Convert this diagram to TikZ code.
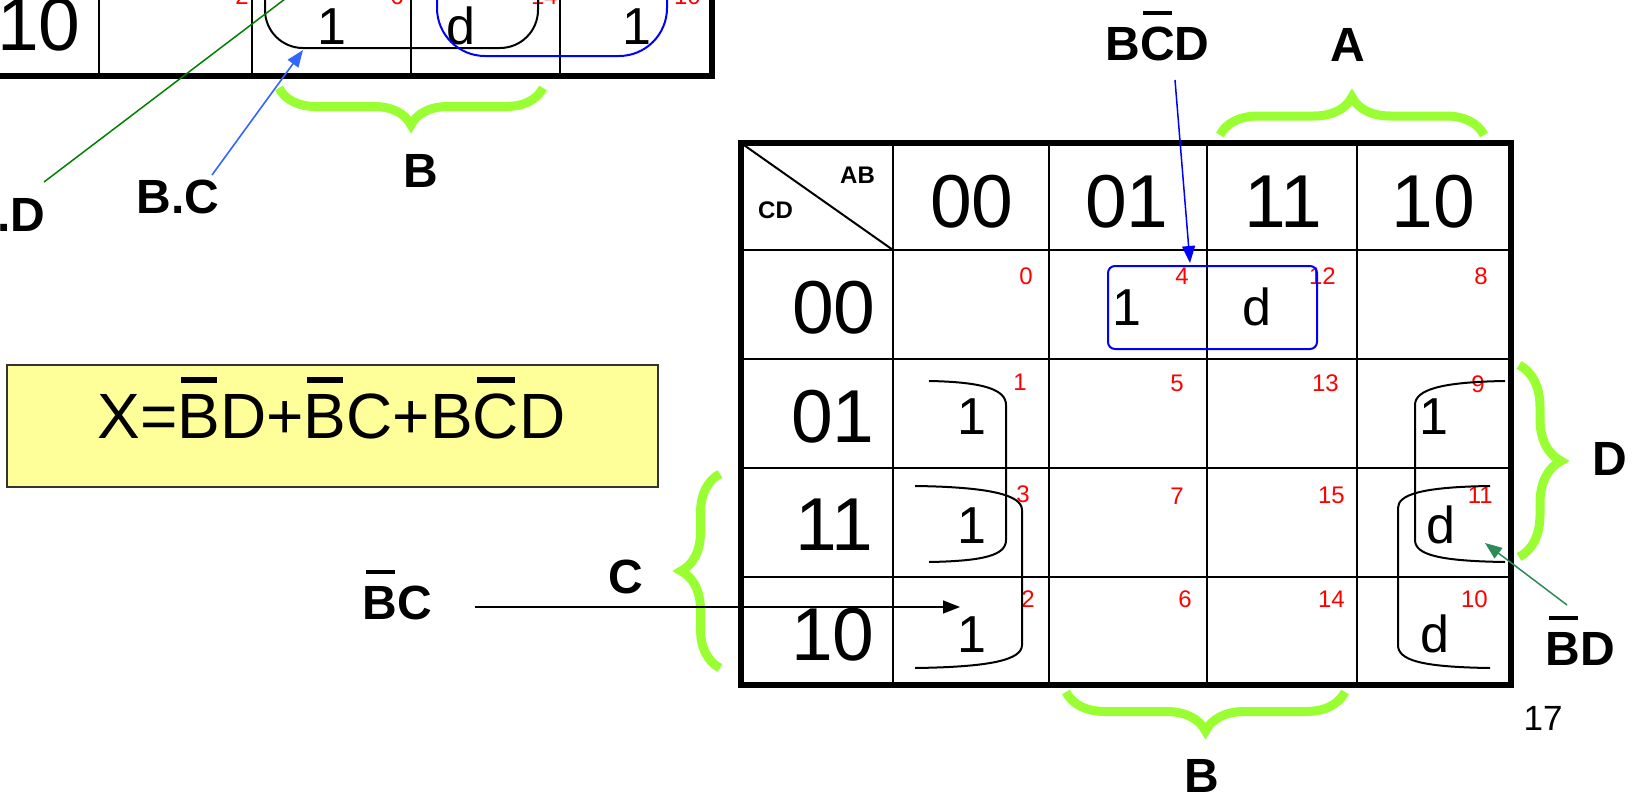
\documentclass[tikz,border=0pt]{standalone}
\usepackage{fontspec}
\setmainfont{Liberation Sans}
\usepackage{tikz}
\usetikzlibrary{arrows.meta,decorations.pathreplacing}
\definecolor{GroupBlue}{HTML}{0000FF}
\definecolor{ArrowBlue}{HTML}{3366FF}
\definecolor{BraceGreen}{HTML}{99FF33}
\definecolor{LineGreen}{HTML}{008000}
\definecolor{SeaGreen}{HTML}{2E8B57}
\definecolor{IndexRed}{HTML}{FF0000}
\definecolor{NoteYellow}{HTML}{FFFF99}
\definecolor{NoteEdge}{HTML}{333333}

\newlength{\barwd}
\newcommand{\nbar}[2][0.94em]{\settowidth{\barwd}{#2}\rlap{\kern0.08\barwd\rule[#1]{0.84\barwd}{0.09em}}#2}

\begin{document}
\begin{tikzpicture}[
  x=1pt, y=-1pt,
  gridline/.style={line width=2pt},
  outline/.style={line width=5.5pt},
  loopline/.style={line width=2pt},
  bigdigit/.style={anchor=base, font=\fontsize{75}{75}\selectfont},
  cellval/.style={anchor=base, font=\fontsize{52}{52}\selectfont},
  idx/.style={anchor=base east, inner sep=0pt, text=IndexRed, font=\fontsize{24}{24}\selectfont},
  corner/.style={anchor=base, font=\bfseries\fontsize{24}{24}\selectfont},
  lbl/.style={anchor=base, font=\bfseries\fontsize{48}{48}\selectfont},
  greenbrace/.style={draw=BraceGreen, line width=9pt, decorate, decoration={brace, amplitude=#1}},
  arrow/.style={-{Triangle[length=17pt, width=13pt]}, line width=1.6pt}
]
\useasboundingbox (0,0) rectangle (1634,795);
\clip (0,0) rectangle (1634,795);

% lower edge of the previous map
\draw[gridline] (99,-20) -- (99,76) (252,-20) -- (252,76) (411,-20) -- (411,76) (560,-20) -- (560,76);
\draw[outline] (-20,76) -- (712,76) -- (712,-20);
\node[bigdigit] (oldrow10) at (39,50) {10};
\node[idx] (oldm2) at (249,5) {2};
\node[idx] (oldm6) at (404,5) {6};
\node[idx] (oldm14) at (558,5) {14};
\node[idx] (oldm10) at (701,5) {10};
\node[cellval] (oldv6) at (332,44) {1};
\node[cellval] (oldv14) at (461,44) {d};
\node[cellval] (oldv10) at (637,44) {1};
\draw[loopline, rounded corners=38pt] (265,-120) rectangle (538,48);
\draw[loopline, draw=GroupBlue, rounded corners=48pt] (437,-120) rectangle (667,56);
\draw[greenbrace=37pt] (543,88) -- (279,88);
\node[lbl] (oldb) at (421,187) {B};
\node[lbl] (bclbl) at (178,213) {B.C};
\node[lbl, anchor=base east] (bdlbl) at (49,231) {.D};
\coordinate (bdtail) at (44,182);
\coordinate (bdfar) at (310,-20);
\coordinate (bctail) at (212,175);
\coordinate (bchead) at (303,50);
\draw[line width=1.5pt, draw=LineGreen] (bdtail) -- (bdfar);
\draw[arrow, draw=ArrowBlue, fill=ArrowBlue] (bctail) -- (bchead);

% result
\node[draw=NoteEdge, fill=NoteYellow, line width=1.5pt, minimum width=651pt, minimum height=122pt] (xbox) at (332.5,426) {};
\node[anchor=base, font=\fontsize{64}{64}\selectfont] (xexpr) at (331.5,438)
  {X=\nbar[0.86em]{B}D+\nbar[0.86em]{B}C+B\nbar[0.86em]{C}D};

% map
\draw[gridline] (893,143) -- (893,685) (1049,143) -- (1049,685) (1207,143) -- (1207,685) (1357,143) -- (1357,685);
\draw[gridline] (741,250) -- (1511,250) (741,359) -- (1511,359) (741,468) -- (1511,468) (741,577) -- (1511,577);
\draw[gridline] (741,143) -- (893,250);
\draw[outline] (741,143) rectangle (1511,685);
\node[corner] (ablbl) at (857.5,183) {AB};
\node[corner] (cdlbl) at (775.5,218) {CD};

\node[bigdigit] (col00) at (972,227) {00};
\node[bigdigit] (col01) at (1127,227) {01};
\node[bigdigit] (col11) at (1283,227) {11};
\node[bigdigit] (col10) at (1433,227) {10};
\node[bigdigit] (row00) at (834,333) {00};
\node[bigdigit] (row01) at (833,442) {01};
\node[bigdigit] (row11) at (834,550) {11};
\node[bigdigit] (row10) at (833,660) {10};

\node[idx] (m0) at (1033,284) {0};
\node[idx] (m4) at (1189,284) {4};
\node[idx] (m12) at (1336,284) {12};
\node[idx] (m8) at (1488,284) {8};
\node[idx] (m1) at (1027,390) {1};
\node[idx] (m5) at (1184,391) {5};
\node[idx] (m13) at (1339,391) {13};
\node[idx] (m9) at (1485,392) {9};
\node[idx] (m3) at (1030,502) {3};
\node[idx] (m7) at (1184,504) {7};
\node[idx] (m15) at (1345,503) {15};
\node[idx] (m11) at (1493,503) {11};
\node[idx] (m2) at (1035,607) {2};
\node[idx] (m6) at (1192,607) {6};
\node[idx] (m14) at (1345,607) {14};
\node[idx] (m10) at (1488,607) {10};

\node[cellval] (v4) at (1127,325) {1};
\node[cellval] (v12) at (1257,325) {d};
\node[cellval] (v1) at (972,434) {1};
\node[cellval] (v9) at (1434,434) {1};
\node[cellval] (v3) at (972,543) {1};
\node[cellval] (v11) at (1441,543) {d};
\node[cellval] (v2) at (972,652) {1};
\node[cellval] (v10) at (1435,652) {d};

% groups
\node[draw=GroupBlue, line width=2pt, rounded corners=7pt, minimum width=209pt, minimum height=83pt] (grp4) at (1212.5,307.5) {};
\draw[loopline] (929,381) .. controls (985,382) and (1006,390) .. (1006,405) -- (1006,540) .. controls (1006,555) and (985,561) .. (929,562);
\draw[loopline] (915,486) .. controls (990,487) and (1022,495) .. (1022,510) -- (1022,645) .. controls (1022,660) and (990,667) .. (915,668);
\draw[loopline] (1505,381) .. controls (1440,382) and (1415,390) .. (1415,405) -- (1415,540) .. controls (1415,555) and (1440,561) .. (1505,562);
\draw[loopline] (1490,486) .. controls (1420,487) and (1398,495) .. (1398,508) -- (1398,645) .. controls (1398,660) and (1420,667) .. (1490,668);

% braces
\draw[greenbrace=38pt] (1220,135) -- (1484,135);
\draw[greenbrace=39pt] (1345,692) -- (1066,692);
\draw[greenbrace=39pt] (720,668) -- (720,474);
\draw[greenbrace=42pt] (1519,365) -- (1519,557);
\node[lbl] (albl) at (1348,61) {A};
\node[lbl] (blbl) at (1202,792) {B};
\node[lbl] (clbl) at (626,593) {C};
\node[lbl] (dlbl) at (1610,475) {D};
\node[anchor=base, font=\fontsize{35}{35}\selectfont] (pageno) at (1543,730) {17};

% terms
\node[lbl] (bcdlbl) at (1157.5,60) {B\nbar{C}D};
\node[lbl] (nbdlbl) at (1580.5,665) {\nbar{B}D};
\node[lbl] (nbclbl) at (397.5,619) {\nbar{B}C};
\coordinate (bcdtail) at (1175,80);
\coordinate (bcdhead) at (1190,263);
\coordinate (nbdtail) at (1567,605);
\coordinate (nbdhead) at (1485,543);
\coordinate (nbctail) at (475,607);
\coordinate (nbchead) at (960,607);
\draw[arrow, line width=1.5pt, draw=GroupBlue, fill=GroupBlue] (bcdtail) -- (bcdhead);
\draw[arrow, line width=1.5pt, draw=SeaGreen, fill=SeaGreen] (nbdtail) -- (nbdhead);
\draw[arrow] (nbctail) -- (nbchead);
\end{tikzpicture}
\end{document}
